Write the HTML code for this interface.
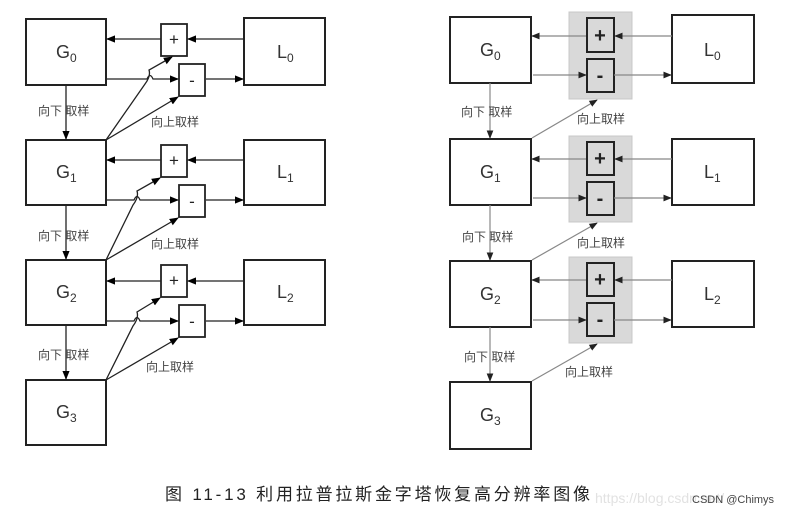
<!DOCTYPE html>
<html><head><meta charset="utf-8"><style>
html,body{margin:0;padding:0;background:#fff;}
svg{display:block;}
text{font-family:"Liberation Sans","Noto Sans CJK SC",sans-serif;}
</style></head><body>
<svg width="791" height="517" viewBox="0 0 791 517" xmlns="http://www.w3.org/2000/svg">
<defs>
<marker id="a" viewBox="0 0 10 10" refX="9" refY="5" markerWidth="7" markerHeight="7" orient="auto"><path d="M0,1 L10,5 L0,9 z" fill="#000"/></marker>
<marker id="b" viewBox="0 0 10 10" refX="9" refY="5" markerWidth="7" markerHeight="7" orient="auto"><path d="M0,1 L10,5 L0,9 z" fill="#222"/></marker>
</defs>
<g id="left" stroke="#222" fill="none" stroke-width="1.3">
<rect x="26" y="19" width="80" height="66" stroke-width="2"/>
<rect x="26" y="140" width="80" height="65" stroke-width="2"/>
<rect x="26" y="260" width="80" height="65" stroke-width="2"/>
<rect x="26" y="380" width="80" height="65" stroke-width="2"/>
<rect x="244" y="18" width="81" height="67" stroke-width="2"/>
<rect x="244" y="140" width="81" height="65" stroke-width="2"/>
<rect x="244" y="260" width="81" height="65" stroke-width="2"/>
<rect x="161" y="24" width="26" height="32" stroke-width="1.8"/>
<rect x="179" y="64" width="26" height="32" stroke-width="1.8"/>
<line x1="161" y1="39" x2="107" y2="39" marker-end="url(#a)"/>
<line x1="244" y1="39" x2="188" y2="39" marker-end="url(#a)"/>
<path d="M106,79 H147 q3,-7 6,0 H178" marker-end="url(#a)"/>
<line x1="206" y1="79" x2="243" y2="79" marker-end="url(#a)"/>
<path d="M106,140 L145,84 q6,-8 4,-14 L172,57" marker-end="url(#a)"/>
<line x1="106" y1="140" x2="178" y2="97" marker-end="url(#a)"/>
<line x1="66" y1="85" x2="66" y2="139" marker-end="url(#a)"/>
<rect x="161" y="145" width="26" height="32" stroke-width="1.8"/>
<rect x="179" y="185" width="26" height="32" stroke-width="1.8"/>
<line x1="161" y1="160" x2="107" y2="160" marker-end="url(#a)"/>
<line x1="244" y1="160" x2="188" y2="160" marker-end="url(#a)"/>
<path d="M106,200 H134 q3,-7 6,0 H178" marker-end="url(#a)"/>
<line x1="206" y1="200" x2="243" y2="200" marker-end="url(#a)"/>
<path d="M106,260 L133,205 q6,-8 4,-14 L160,178" marker-end="url(#a)"/>
<line x1="106" y1="260" x2="178" y2="218" marker-end="url(#a)"/>
<line x1="66" y1="205" x2="66" y2="259" marker-end="url(#a)"/>
<rect x="161" y="265" width="26" height="32" stroke-width="1.8"/>
<rect x="179" y="305" width="26" height="32" stroke-width="1.8"/>
<line x1="161" y1="281" x2="107" y2="281" marker-end="url(#a)"/>
<line x1="244" y1="281" x2="188" y2="281" marker-end="url(#a)"/>
<path d="M106,321 H134 q3,-7 6,0 H178" marker-end="url(#a)"/>
<line x1="206" y1="321" x2="243" y2="321" marker-end="url(#a)"/>
<path d="M106,380 L133,326 q6,-8 4,-14 L160,298" marker-end="url(#a)"/>
<line x1="106" y1="380" x2="178" y2="338" marker-end="url(#a)"/>
<line x1="66" y1="325" x2="66" y2="379" marker-end="url(#a)"/>
</g>
<g fill="#222" font-size="17" text-anchor="middle">
<text x="174" y="45">+</text><text x="192" y="86">-</text>
<text x="174" y="166">+</text><text x="192" y="207">-</text>
<text x="174" y="286">+</text><text x="192" y="327">-</text>
</g>
<g fill="#333" font-size="18">
<text x="56" y="58">G<tspan font-size="12" dy="4">0</tspan></text>
<text x="56" y="178">G<tspan font-size="12" dy="4">1</tspan></text>
<text x="56" y="298">G<tspan font-size="12" dy="4">2</tspan></text>
<text x="56" y="418">G<tspan font-size="12" dy="4">3</tspan></text>
<text x="277" y="58">L<tspan font-size="12" dy="4">0</tspan></text>
<text x="277" y="178">L<tspan font-size="12" dy="4">1</tspan></text>
<text x="277" y="298">L<tspan font-size="12" dy="4">2</tspan></text>
</g>
<g fill="#444" font-size="12">
<text x="38" y="115">向下 取样</text><text x="151" y="126">向上取样</text>
<text x="38" y="240">向下 取样</text><text x="151" y="248">向上取样</text>
<text x="38" y="359">向下 取样</text><text x="146" y="371">向上取样</text>
</g>

<g fill="#d9d9d9" stroke="#c8c8c8">
<rect x="569" y="12" width="63" height="87"/>
<rect x="569" y="136" width="63" height="86"/>
<rect x="569" y="257" width="63" height="86"/>
</g>
<g stroke="#222" fill="none" stroke-width="2">
<rect x="450" y="17" width="81" height="66"/>
<rect x="450" y="139" width="81" height="66"/>
<rect x="450" y="261" width="81" height="66"/>
<rect x="450" y="382" width="81" height="67"/>
<rect x="672" y="15" width="82" height="68"/>
<rect x="672" y="139" width="82" height="66"/>
<rect x="672" y="261" width="82" height="66"/>
<rect x="587" y="18" width="27" height="34"/>
<rect x="587" y="59" width="27" height="33"/>
<rect x="587" y="142" width="27" height="33"/>
<rect x="587" y="182" width="27" height="33"/>
<rect x="587" y="263" width="27" height="33"/>
<rect x="587" y="303" width="27" height="33"/>
</g>
<g stroke="#888" fill="none" stroke-width="1.2">
<line x1="586" y1="36" x2="532" y2="36" marker-end="url(#b)"/>
<line x1="672" y1="36" x2="615" y2="36" marker-end="url(#b)"/>
<line x1="533" y1="75" x2="586" y2="75" marker-end="url(#b)"/>
<line x1="614" y1="75" x2="671" y2="75" marker-end="url(#b)"/>
<line x1="532" y1="138" x2="597" y2="100" marker-end="url(#b)"/>
<line x1="490" y1="83" x2="490" y2="138" marker-end="url(#b)"/>
<line x1="586" y1="159" x2="532" y2="159" marker-end="url(#b)"/>
<line x1="672" y1="159" x2="615" y2="159" marker-end="url(#b)"/>
<line x1="533" y1="198" x2="586" y2="198" marker-end="url(#b)"/>
<line x1="614" y1="198" x2="671" y2="198" marker-end="url(#b)"/>
<line x1="532" y1="260" x2="597" y2="223" marker-end="url(#b)"/>
<line x1="490" y1="205" x2="490" y2="260" marker-end="url(#b)"/>
<line x1="586" y1="280" x2="532" y2="280" marker-end="url(#b)"/>
<line x1="672" y1="280" x2="615" y2="280" marker-end="url(#b)"/>
<line x1="533" y1="320" x2="586" y2="320" marker-end="url(#b)"/>
<line x1="614" y1="320" x2="671" y2="320" marker-end="url(#b)"/>
<line x1="532" y1="381" x2="597" y2="344" marker-end="url(#b)"/>
<line x1="490" y1="327" x2="490" y2="381" marker-end="url(#b)"/>
</g>
<g fill="#222" font-size="20" font-weight="bold" text-anchor="middle">
<text x="600" y="42">+</text><text x="600" y="82">-</text>
<text x="600" y="165">+</text><text x="600" y="205">-</text>
<text x="600" y="286">+</text><text x="600" y="326">-</text>
</g>
<g fill="#333" font-size="18">
<text x="480" y="56">G<tspan font-size="12" dy="4">0</tspan></text>
<text x="480" y="178">G<tspan font-size="12" dy="4">1</tspan></text>
<text x="480" y="300">G<tspan font-size="12" dy="4">2</tspan></text>
<text x="480" y="421">G<tspan font-size="12" dy="4">3</tspan></text>
<text x="704" y="56">L<tspan font-size="12" dy="4">0</tspan></text>
<text x="704" y="178">L<tspan font-size="12" dy="4">1</tspan></text>
<text x="704" y="300">L<tspan font-size="12" dy="4">2</tspan></text>
</g>
<g fill="#444" font-size="12">
<text x="461" y="116">向下 取样</text><text x="577" y="123">向上取样</text>
<text x="462" y="241">向下 取样</text><text x="577" y="247">向上取样</text>
<text x="464" y="361">向下 取样</text><text x="565" y="376">向上取样</text>
</g>
<text x="165" y="500" font-size="17" fill="#222" textLength="425" lengthAdjust="spacing">图 11-13 利用拉普拉斯金字塔恢复高分辨率图像</text>
<text x="595" y="503" font-size="14" fill="#e2e2e2">https://blog.csdn.net/</text>
<text x="692" y="503" font-size="11" fill="#444">CSDN @Chimys</text>
</svg>
</body></html>
